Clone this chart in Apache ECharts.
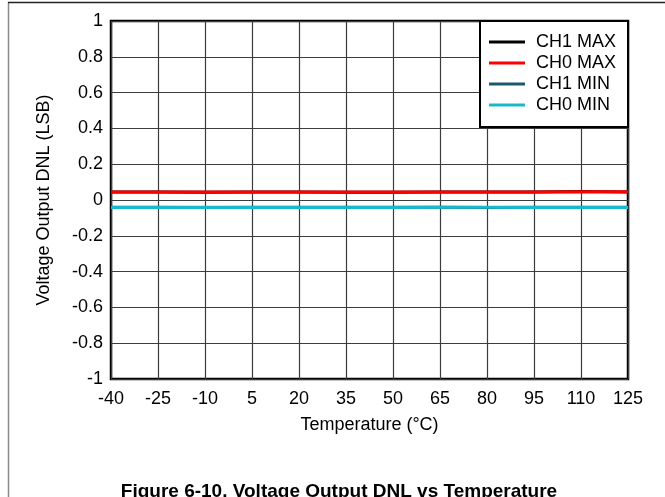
<!DOCTYPE html>
<html>
<head>
<meta charset="utf-8">
<script src="https://cdn.jsdelivr.net/npm/echarts@6/dist/echarts.min.js"></script>
<style>
  html, body { margin: 0; padding: 0; background: #fff; }
  #chart { width: 665px; height: 497px; }
</style>
</head>
<body>
<div id="chart"></div>
<script>
// Temperature sweep points (°C)
const temperatures = ['-40', '-25', '-10', '5', '20', '35', '50', '65', '80', '95', '110', '125'];

// DNL in LSB for each channel
const ch1Max = [0.044, 0.044, 0.043, 0.044, 0.044, 0.043, 0.043, 0.044, 0.044, 0.044, 0.048, 0.045];
const ch0Max = [0.045, 0.044, 0.044, 0.045, 0.044, 0.044, 0.044, 0.045, 0.045, 0.044, 0.046, 0.046];
const ch1Min = [-0.041, -0.041, -0.042, -0.041, -0.041, -0.041, -0.041, -0.040, -0.042, -0.041, -0.041, -0.041];
const ch0Min = [-0.042, -0.042, -0.041, -0.042, -0.042, -0.042, -0.042, -0.041, -0.041, -0.042, -0.042, -0.042];

const seriesNames = ['CH1 MAX', 'CH0 MAX', 'CH1 MIN', 'CH0 MIN'];
const seriesColors = ['#000000', '#ff0000', '#1b5a6c', '#19b9cc'];
const seriesData = [ch1Max, ch0Max, ch1Min, ch0Min];

const FONT = "'Liberation Sans', Arial, sans-serif";

const chart = echarts.init(document.getElementById('chart'), null, { renderer: 'canvas' });

chart.setOption({
  animation: false,
  backgroundColor: '#ffffff',
  grid: {
    left: 111, right: 37, top: 21, bottom: 118,
    show: true,
    borderColor: '#000000',
    borderWidth: 2.5,
    backgroundColor: 'transparent'
  },
  xAxis: {
    type: 'category',
    data: temperatures,
    boundaryGap: false,
    name: 'Temperature (\u00B0C)',
    nameLocation: 'middle',
    nameGap: 37,
    nameTextStyle: { fontFamily: FONT, fontSize: 18, color: '#000' },
    axisLine: { show: false },
    axisTick: { show: false },
    axisLabel: { fontFamily: FONT, fontSize: 18, color: '#000', margin: 11 },
    splitLine: { show: true, lineStyle: { color: '#3c3c3c', width: 1.2 } }
  },
  yAxis: {
    type: 'value',
    min: -1, max: 1, interval: 0.2,
    name: 'Voltage Output DNL (LSB)',
    nameLocation: 'middle',
    nameRotate: 90,
    nameGap: 58,
    nameTextStyle: { fontFamily: FONT, fontSize: 18, color: '#000' },
    axisLine: { show: false },
    axisTick: { show: false },
    axisLabel: {
      fontFamily: FONT, fontSize: 18, color: '#000', margin: 8,
      formatter: v => String(Number(v.toFixed(1)))
    },
    splitLine: { show: true, lineStyle: { color: '#3c3c3c', width: 1.2 } }
  },
  legend: {
    orient: 'vertical',
    left: 480, top: 21,
    padding: [12, 8, 12, 9],
    itemGap: 3,
    itemWidth: 36,
    itemHeight: 3,
    icon: 'rect',
    z: 20,
    textStyle: { fontFamily: FONT, fontSize: 18, color: '#000', lineHeight: 18, padding: [0, 0, 0, 6] },
    data: seriesNames
  },
  graphic: [
    // outer figure frame
    { type: 'line', z: 30, shape: { x1: 8.5, y1: 2, x2: 8.5, y2: 497 }, style: { stroke: '#8a8a8a', lineWidth: 1.5 } },
    { type: 'line', z: 30, shape: { x1: 8, y1: 2.5, x2: 665, y2: 2.5 }, style: { stroke: '#222', lineWidth: 1.5 } },
    // legend box
    { type: 'rect', z: 10, shape: { x: 480, y: 21, width: 148, height: 106 },
      style: { fill: '#ffffff', stroke: '#000000', lineWidth: 2 } },
    // figure caption
    { type: 'text', z: 30, x: 339, y: 482,
      style: { text: 'Figure 6-10. Voltage Output DNL vs Temperature', fontFamily: FONT,
               fontSize: 19, fontWeight: 'bold', fill: '#000', align: 'center', verticalAlign: 'top' } }
  ],
  series: seriesNames.map((name, i) => ({
    name,
    type: 'line',
    data: seriesData[i],
    symbol: 'none',
    z: 2 + i,
    lineStyle: { color: seriesColors[i], width: 3 },
    itemStyle: { color: seriesColors[i] }
  }))
});
</script>
</body>
</html>
